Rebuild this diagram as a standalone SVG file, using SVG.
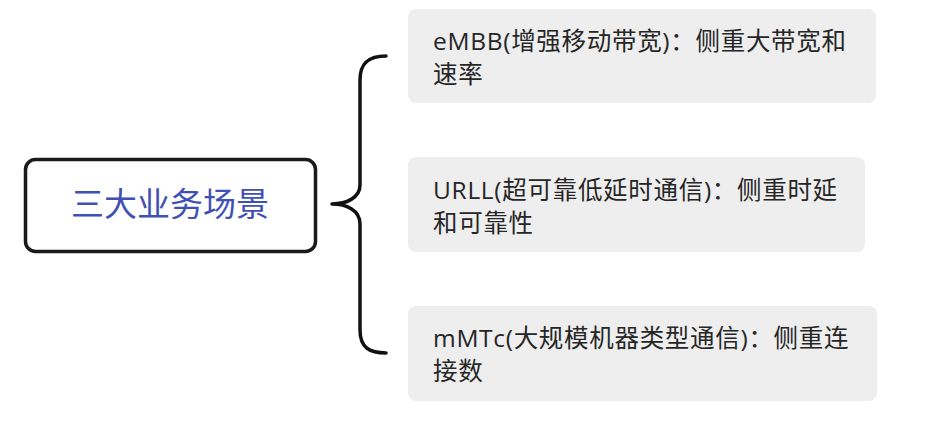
<svg xmlns="http://www.w3.org/2000/svg" width="928" height="447" viewBox="0 0 928 447">
<style>
.leaf{fill:#EEEEEE;stroke:none}
.lt{font-family:"Open Sans","Noto Sans CJK SC",sans-serif;font-size:24.5px;letter-spacing:0.7px;fill:#262626}
.root{fill:#FFFFFF;stroke:#1A1A1A;stroke-width:3.5}
.rt{font-family:"Noto Sans CJK SC","Noto Sans",sans-serif;font-size:33px;fill:#3F51B5}
.brace{fill:none;stroke:#111111;stroke-width:3.5;stroke-linecap:round;stroke-linejoin:round}
</style>
<rect width="928" height="447" fill="#FFFFFF"/>
<g id="connectors">
<path class="brace" d="M386,56 C370,56 360,62 360,80 L360,185 C360,198 346,204 332,204 C346,204 360,210 360,224 L360,330 C360,348 370,353 386,353"/>
</g>
<g id="root">
<rect class="root" x="25.5" y="159.5" width="290" height="92" rx="10"/>
<text class="rt" x="170" y="216" text-anchor="middle">三大业务场景</text>
</g>
<g id="embb">
<rect class="leaf" x="408" y="9" width="468" height="94" rx="8"/>
<text class="lt" x="433" y="50">eMBB(增强移动带宽)：侧重大带宽和</text>
<text class="lt" x="433" y="83">速率</text>
</g>
<g id="urll">
<rect class="leaf" x="408" y="157" width="457" height="95" rx="8"/>
<text class="lt" x="433" y="199">URLL(超可靠低延时通信)：侧重时延</text>
<text class="lt" x="433" y="232">和可靠性</text>
</g>
<g id="mmtc">
<rect class="leaf" x="408" y="306" width="469" height="95" rx="8"/>
<text class="lt" x="433" y="347">mMTc(大规模机器类型通信)：侧重连</text>
<text class="lt" x="433" y="380">接数</text>
</g>
</svg>
